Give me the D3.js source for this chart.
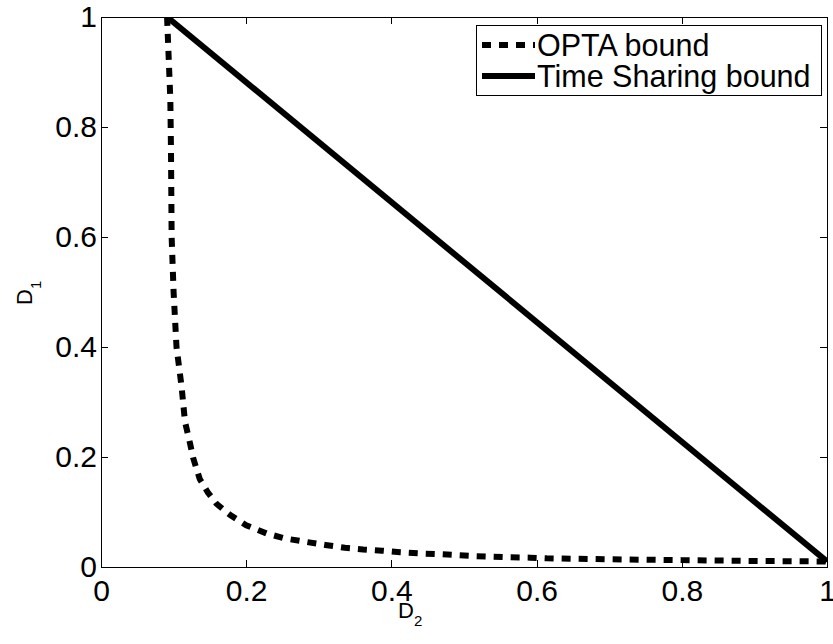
<!DOCTYPE html>
<html>
<head>
<meta charset="utf-8">
<script src="https://cdn.jsdelivr.net/npm/d3@7"></script>
<style>
	body { margin: 0; background: #fff; }
	text { font-family: "Liberation Sans", Arial, Helvetica, sans-serif; fill: #000; }
	.axis path { display: none; }
	.axis line { stroke: #000; shape-rendering: crispEdges; }
	.axis text { font-size: 30px; }
</style>
</head>
<body>
<div id="plot"></div>
<script>
// OPTA bound vs time sharing bound, D1 against D2

// OPTA bound (D2, D1)
var opta_d2 = [0.091, 0.0955, 0.0964, 0.0973, 0.100, 0.104, 0.111, 0.1157, 0.1226, 0.127, 0.136,
	0.147, 0.159, 0.178, 0.200, 0.228, 0.253, 0.281, 0.309, 0.336, 0.361, 0.387, 0.412,
	0.437, 0.462, 0.487, 0.512, 0.538, 0.563, 0.591, 0.614, 0.700, 0.800, 0.900, 1.000];
var opta_d1 = [1.000, 0.850, 0.758, 0.600, 0.500, 0.400, 0.328, 0.264, 0.225, 0.198, 0.160,
	0.136, 0.115, 0.0945, 0.076, 0.061, 0.052, 0.046, 0.040, 0.035, 0.032, 0.0297, 0.0267,
	0.0248, 0.0236, 0.0218, 0.020, 0.0188, 0.0176, 0.017, 0.0158, 0.014, 0.0125, 0.011, 0.010];

// time sharing bound: straight line between the two end points
var ts_d2 = [0.091, 1.0];
var ts_d1 = [1.0, 0.01];

var x_ticks = [0, 0.2, 0.4, 0.6, 0.8, 1];
var y_ticks = [0, 0.2, 0.4, 0.6, 0.8, 1];
var tick_labels = ["0", "0.2", "0.4", "0.6", "0.8", "1"];
var legend_labels = ["OPTA bound", "Time Sharing bound"];

var margin = {top: 17, right: 6, bottom: 77, left: 101};
var width = 726, height = 550;

var svg = d3.select("#plot")
	.append("svg")
		.attr("width", 833)
		.attr("height", 644)
	.append("g")
		.attr("transform", "translate(" + margin.left + "," + margin.top + ")");

var x = d3.scaleLinear().domain([0, 1]).range([0, width]);
var y = d3.scaleLinear().domain([0, 1]).range([height, 0]);

function fmt(d) { return tick_labels[x_ticks.indexOf(d)]; }

// axes, matlab style ticks pointing in
svg.append("g")
	.attr("class", "x axis")
	.attr("transform", "translate(0," + height + ")")
	.call(d3.axisBottom(x).tickValues(x_ticks).tickSize(-7).tickPadding(13).tickFormat(fmt));

svg.append("g")
	.attr("class", "y axis")
	.call(d3.axisLeft(y).tickValues(y_ticks).tickSize(-7).tickPadding(4).tickFormat(fmt));

svg.append("g")
	.attr("class", "axis")
	.call(d3.axisTop(x).tickValues(x_ticks).tickSize(-7).tickFormat(""));

svg.append("g")
	.attr("class", "axis")
	.attr("transform", "translate(" + width + ",0)")
	.call(d3.axisRight(y).tickValues(y_ticks).tickSize(-7).tickFormat(""));

svg.append("clipPath")
	.attr("id", "clip")
	.append("rect")
		.attr("width", width)
		.attr("height", height);

var line = d3.line()
	.x(function(d) { return x(d[0]); })
	.y(function(d) { return y(d[1]); });

var opta = d3.zip(opta_d2, opta_d1);
var ts = d3.zip(ts_d2, ts_d1);

svg.append("path")
	.datum(opta)
	.attr("clip-path", "url(#clip)")
	.attr("d", line)
	.attr("fill", "none")
	.attr("stroke", "#000")
	.attr("stroke-width", 6)
	.attr("stroke-dasharray", "9,8");

svg.append("path")
	.datum(ts)
	.attr("clip-path", "url(#clip)")
	.attr("d", line)
	.attr("fill", "none")
	.attr("stroke", "#000")
	.attr("stroke-width", 6);

// box
svg.append("rect")
	.attr("width", width)
	.attr("height", height)
	.attr("fill", "none")
	.attr("stroke", "#000")
	.attr("stroke-width", 1)
	.attr("shape-rendering", "crispEdges");

// legend
var legend = svg.append("g")
	.attr("transform", "translate(" + (476 - margin.left) + "," + (25 - margin.top) + ")");

legend.append("rect")
	.attr("width", 345)
	.attr("height", 70)
	.attr("fill", "#fff")
	.attr("stroke", "#000")
	.attr("shape-rendering", "crispEdges");

var rows = legend.selectAll(".row")
	.data(legend_labels)
	.enter().append("g")
		.attr("class", "row")
		.attr("transform", function(d, i) { return "translate(0," + (20 + i * 31) + ")"; });

rows.append("line")
	.attr("x1", 6)
	.attr("x2", 59)
	.attr("stroke", "#000")
	.attr("stroke-width", 6)
	.attr("stroke-dasharray", function(d, i) { return i == 0 ? "9,8" : null; });

rows.append("text")
	.attr("x", 61)
	.attr("dy", "0.35em")
	.style("font-size", "30.5px")
	.text(function(d) { return d; });

// axis labels with subscripts
var xlab = svg.append("text")
	.attr("x", 398 - margin.left)
	.attr("y", 618 - margin.top)
	.style("font-size", "22px")
	.text("D");
xlab.append("tspan")
	.attr("dy", 8)
	.style("font-size", "15px")
	.text("2");

var ylab = svg.append("text")
	.attr("transform", "translate(" + (32 - margin.left) + "," + (305 - margin.top) + ") rotate(-90)")
	.style("font-size", "22px")
	.text("D");
ylab.append("tspan")
	.attr("dy", 9)
	.style("font-size", "15px")
	.text("1");
</script>
</body>
</html>
